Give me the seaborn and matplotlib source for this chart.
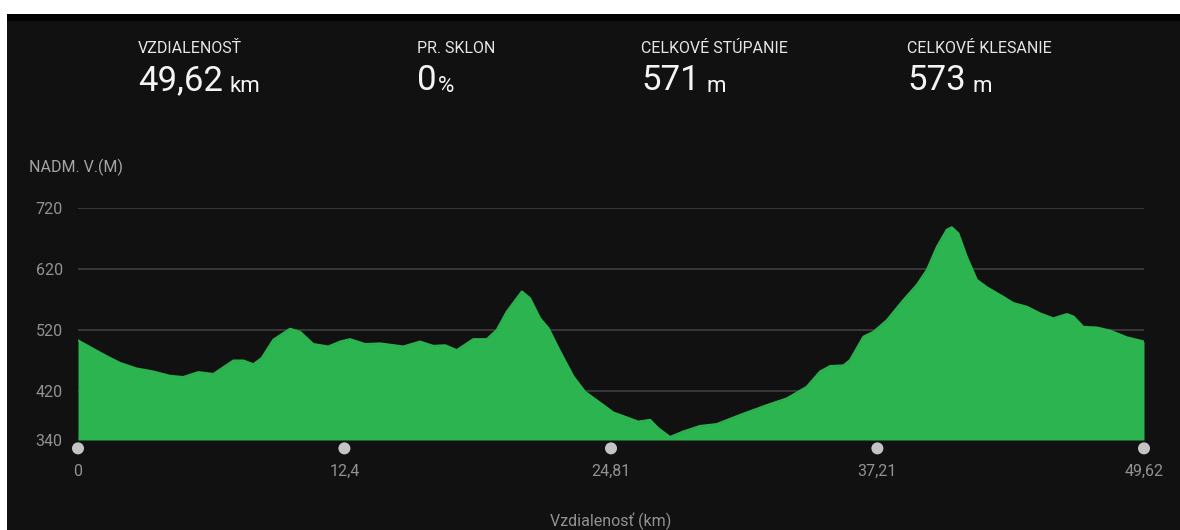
import matplotlib
matplotlib.use("Agg")
import matplotlib.pyplot as plt
import matplotlib.transforms as mtransforms
from matplotlib.patches import Rectangle
import pandas as pd
import seaborn as sns

# elevation profile
dist_km = [0.00, 0.56, 1.34, 1.96, 2.73, 3.51, 4.28, 4.90, 5.60, 6.30,
           7.23, 7.70, 8.16, 8.55, 9.09, 9.87, 10.34, 10.95, 11.65, 12.20,
           12.66, 13.36, 14.06, 15.14, 15.92, 16.54, 17.09, 17.63, 18.40, 19.03,
           19.49, 19.96, 20.66, 21.04, 21.51, 21.90, 22.44, 23.06, 23.60, 24.30,
           24.92, 25.39, 26.08, 26.63, 27.02, 27.56, 28.18, 28.96, 29.73, 30.82,
           32.06, 32.99, 33.92, 34.54, 35.01, 35.63, 35.94, 36.56, 37.03, 37.65,
           38.42, 39.05, 39.51, 39.98, 40.44, 40.67, 40.98, 41.37, 41.84, 42.30,
           43.08, 43.54, 44.17, 44.79, 45.40, 46.03, 46.34, 46.80, 47.43, 48.04,
           48.82, 49.29, 49.62]
elev_m = [503, 492, 477, 466, 457, 452, 445, 443, 451, 448,
          470, 470, 464, 474, 504, 522, 517, 497, 493, 501,
          505, 497, 498, 493, 501, 494, 495, 487, 505, 505,
          520, 550, 583, 572, 539, 523, 485, 444, 419, 401,
          385, 379, 370, 373, 359, 345, 354, 363, 366, 381,
          397, 408, 427, 452, 461, 462, 471, 509, 517, 536,
          569, 594, 618, 656, 684, 688, 678, 640, 602, 590,
          574, 564, 558, 547, 539, 546, 542, 525, 524, 519,
          508, 504, 501]

x_ticks = [0, 12.4, 24.81, 37.21, 49.62]
x_tick_labels = ["0", "12,4", "24,81", "37,21", "49,62"]
y_ticks = [340, 420, 520, 620, 720]

stat_titles = ["VZDIALENOSŤ", "PR. SKLON", "CELKOVÉ STÚPANIE", "CELKOVÉ KLESANIE"]
stat_values = ["49,62", "0", "571", "573"]
stat_units = ["km", "%", "m", "m"]

BG = "#111111"
GREEN = "#2bb44f"
GRID = "#3c3c3c"
TICK = "#929292"
HEAD = "#e6e6e6"

sns.set_theme(style="dark")
plt.rcParams["font.family"] = ["Roboto", "DejaVu Sans"]

W, H = 1180, 530
fig = plt.figure(figsize=(W / 100, H / 100), dpi=100)
fig.patch.set_facecolor("white")
fig.patches.append(Rectangle((7 / W, 0), 1 - 7 / W, 1 - 14 / H, transform=fig.transFigure,
                             facecolor=BG, edgecolor="none", zorder=-2))
fig.patches.append(Rectangle((7 / W, 1 - 21 / H), 1 - 7 / W, 7 / H, transform=fig.transFigure,
                             facecolor="black", edgecolor="none", zorder=-1))

ax = fig.add_axes([78 / W, (H - 440) / H, 1066 / W, (440 - 207.7) / H])
ax.set_facecolor(BG)

df = pd.DataFrame({"dist": dist_km, "elev": elev_m})
ax.fill_between(df["dist"], df["elev"], 340, color=GREEN, lw=0, zorder=2)
sns.lineplot(data=df, x="dist", y="elev", color=GREEN, lw=1.5, ax=ax, zorder=3)

ax.set_xlim(0, 49.62)
ax.set_ylim(340, 720)
ax.set_axisbelow(True)
ax.yaxis.grid(True, color=GRID, lw=1.3)
ax.xaxis.grid(False)
for s in ax.spines.values():
    s.set_visible(False)

ax.set_yticks(y_ticks)
ax.set_yticklabels([str(v) for v in y_ticks])
ax.set_xticks(x_ticks)
ax.set_xticklabels(x_tick_labels)
ax.tick_params(axis="y", length=0, pad=11, labelsize=11.5, labelcolor=TICK)
ax.tick_params(axis="x", length=0, pad=17, labelsize=11.5, labelcolor=TICK)

# dots under the distance ticks
trans = mtransforms.blended_transform_factory(ax.transData, ax.transAxes)
sns.scatterplot(x=x_ticks, y=[-0.036] * len(x_ticks), s=75, color="#c4c4c4",
                edgecolor="none", transform=trans, clip_on=False, ax=ax, zorder=4)

ax.set_ylabel("")
ax.set_xlabel("Vzdialenosť (km)", color=TICK, fontsize=11.5)
ax.xaxis.set_label_coords(0.5, -0.35)
ax.xaxis.label.set_va("center")

fig.text(29 / W, 1 - 167 / H, "NADM. V.(M)", color="#a4a4a4", fontsize=11.5,
         ha="left", va="center")

# header stats
col_x = [138, 417, 641, 907]
unit_gap = [5, 1, 5, 5]
for cx, title, val, unit, gap in zip(col_x, stat_titles, stat_values, stat_units, unit_gap):
    fig.text(cx / W, 1 - 52.7 / H, title, color=HEAD, fontsize=11.5, ha="left", va="baseline")
    t = fig.text(cx / W, 1 - 90 / H, val, color="#f4f4f4", fontsize=25,
                 ha="left", va="baseline")
    ax.annotate(unit, xy=(1, 0), xycoords=t, xytext=(gap, 0), textcoords="offset points",
                color="#f4f4f4", fontsize=16, ha="left", va="bottom")

fig.savefig("out.png", dpi=100, facecolor=fig.get_facecolor())
